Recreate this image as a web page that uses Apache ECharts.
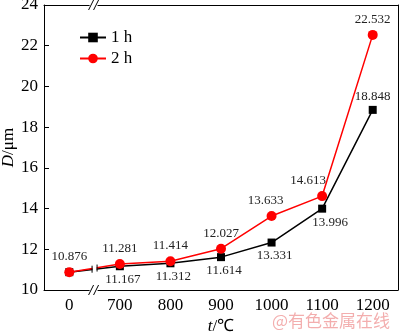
<!DOCTYPE html>
<html><head><meta charset="utf-8">
<script src="https://cdn.jsdelivr.net/npm/echarts@6/dist/echarts.min.js"></script>
<style>html,body{margin:0;padding:0;background:#fff}#c{width:400px;height:333px}</style>
</head><body><div id="c"></div>
<script>
const categories = ['0', '700', '800', '900', '1000', '1100', '1200'];
const values1h = [10.876, 11.167, 11.312, 11.614, 12.331, 13.996, 18.848];
const values2h = [10.876, 11.281, 11.414, 12.027, 13.633, 14.613, 22.532];
const labels1h = ['', '11.167', '11.312', '11.614', '13.331', '13.996', '18.848'];
const labels2h = ['10.876', '11.281', '11.414', '12.027', '13.633', '14.613', '22.532'];
const seriesNames = ['1 h', '2 h'];
const yMin = 10, yMax = 24, yStep = 2;

const FONT = "'Liberation Serif', 'Times New Roman', serif";
const chart = echarts.init(document.getElementById('c'), null, {renderer: 'canvas'});

function buildData(values, labels, isUpper) {
  return values.map((v, i) => {
    const last = i === values.length - 1;
    let pos = isUpper || last ? 'top' : 'bottom';
    let offset = [0, 0];
    if (isUpper && i === 5) offset = [-14, 0];
    if (isUpper && i === 4) offset = [-6, 0];
    if (!isUpper && i === 5) offset = [8, 0];
    if (!isUpper && i >= 1 && i <= 4) offset = [3, 0];
    return {
      value: v,
      label: {show: labels[i] !== '', formatter: labels[i], position: pos, offset: offset}
    };
  });
}

const option = {
  animation: false,
  backgroundColor: '#fff',
  grid: {left: 44, right: 2, top: 5, bottom: 43, show: false, outerBoundsMode: 'none', containLabel: false},
  legend: {
    orient: 'vertical', left: 74, top: 24, itemWidth: 26, itemHeight: 12, itemGap: 4,
    textStyle: {fontFamily: FONT, fontSize: 17, color: '#000'},
    data: seriesNames
  },
  xAxis: [{
    type: 'category', data: categories, boundaryGap: true,
    axisLine: {lineStyle: {color: '#000', width: 1}},
    axisTick: {inside: true, alignWithLabel: true, length: 5, lineStyle: {color: '#000'}},
    axisLabel: {fontFamily: FONT, fontSize: 17, color: '#000', margin: 7},
    name: '{i|t}/℃', nameLocation: 'middle', nameGap: 28, nameMoveOverlap: false,
    nameTextStyle: {fontFamily: FONT, fontSize: 17, color: '#000',
      rich: {i: {fontFamily: FONT, fontStyle: 'italic', fontSize: 17, color: '#000'}}}
  }, {
    type: 'category', data: categories, position: 'top', boundaryGap: true,
    axisLine: {onZero: false, lineStyle: {color: '#000'}}, axisTick: {show: false}, axisLabel: {show: false}
  }],
  yAxis: [{
    type: 'value', min: yMin, max: yMax, interval: yStep,
    axisLine: {show: true, lineStyle: {color: '#000'}},
    axisTick: {show: true, inside: true, length: 5, lineStyle: {color: '#000'}},
    splitLine: {show: false},
    axisLabel: {fontFamily: FONT, fontSize: 17, color: '#000', margin: 6},
    name: '{i|D}/μm', nameLocation: 'middle', nameGap: 27, nameRotate: 90, nameMoveOverlap: false,
    nameTextStyle: {fontFamily: FONT, fontSize: 17, color: '#000',
      rich: {i: {fontFamily: FONT, fontStyle: 'italic', fontSize: 17, color: '#000'}}}
  }, {
    type: 'value', min: yMin, max: yMax, interval: yStep, position: 'right',
    axisLine: {show: true, lineStyle: {color: '#000'}}, axisTick: {show: false},
    axisLabel: {show: false}, splitLine: {show: false}
  }],
  series: [{
    name: seriesNames[0], type: 'line', symbol: 'rect', symbolSize: 8,
    itemStyle: {color: '#000'}, lineStyle: {color: '#000', width: 1.5},
    label: {fontFamily: FONT, fontSize: 13, color: '#222', distance: 3},
    data: buildData(values1h, labels1h, false), z: 3
  }, {
    name: seriesNames[1], type: 'line', symbol: 'circle', symbolSize: 10,
    itemStyle: {color: '#f00'}, lineStyle: {color: '#f00', width: 1.5},
    label: {fontFamily: FONT, fontSize: 13, color: '#222', distance: 4},
    data: buildData(values2h, labels2h, true), z: 4
  }]
};
chart.setOption(option);

// axis break decoration between the first two categories
const p0 = chart.convertToPixel({xAxisIndex: 0}, categories[0]);
const p1 = chart.convertToPixel({xAxisIndex: 0}, categories[1]);
const bx = (p0 + p1) / 2;
const yBottom = chart.convertToPixel({yAxisIndex: 0}, yMin);
const yTop = chart.convertToPixel({yAxisIndex: 0}, yMax);
const ya = chart.convertToPixel({yAxisIndex: 0}, (values1h[0] + values1h[1]) / 2);
const yb = chart.convertToPixel({yAxisIndex: 0}, (values2h[0] + values2h[1]) / 2);
const yl = Math.min(ya, yb) - 4, yh = Math.max(ya, yb) + 4;
function slashes(y) {
  return [
    {type: 'rect', shape: {x: bx - 5, y: y - 1.5, width: 8, height: 3}, style: {fill: '#fff'}, z: 100},
    {type: 'line', shape: {x1: bx - 6, y1: y + 5, x2: bx - 1, y2: y - 5}, style: {stroke: '#000', lineWidth: 1}, z: 101},
    {type: 'line', shape: {x1: bx - 1, y1: y + 5, x2: bx + 4, y2: y - 5}, style: {stroke: '#000', lineWidth: 1}, z: 101}
  ];
}
chart.setOption({
  graphic: [
    ...slashes(yBottom), ...slashes(yTop),
    {type: 'rect', shape: {x: bx - 2, y: yl, width: 4, height: yh - yl}, style: {fill: '#fff'}, z: 100},
    {type: 'line', shape: {x1: bx - 2.5, y1: ya - 3.5, x2: bx - 2.5, y2: ya + 3.5}, style: {stroke: '#000', lineWidth: 1}, z: 101},
    {type: 'line', shape: {x1: bx + 2.5, y1: yb - 3.5, x2: bx + 2.5, y2: yb + 3.5}, style: {stroke: '#000', lineWidth: 1}, z: 101},
    {type: 'text', right: 10, bottom: 4, z: 102,
      style: {text: '@有色金属在线', fontFamily: "'Noto Sans CJK SC', sans-serif", fontSize: 17, fill: 'rgba(235,120,120,0.6)'}}
  ]
});
</script>
</body></html>
